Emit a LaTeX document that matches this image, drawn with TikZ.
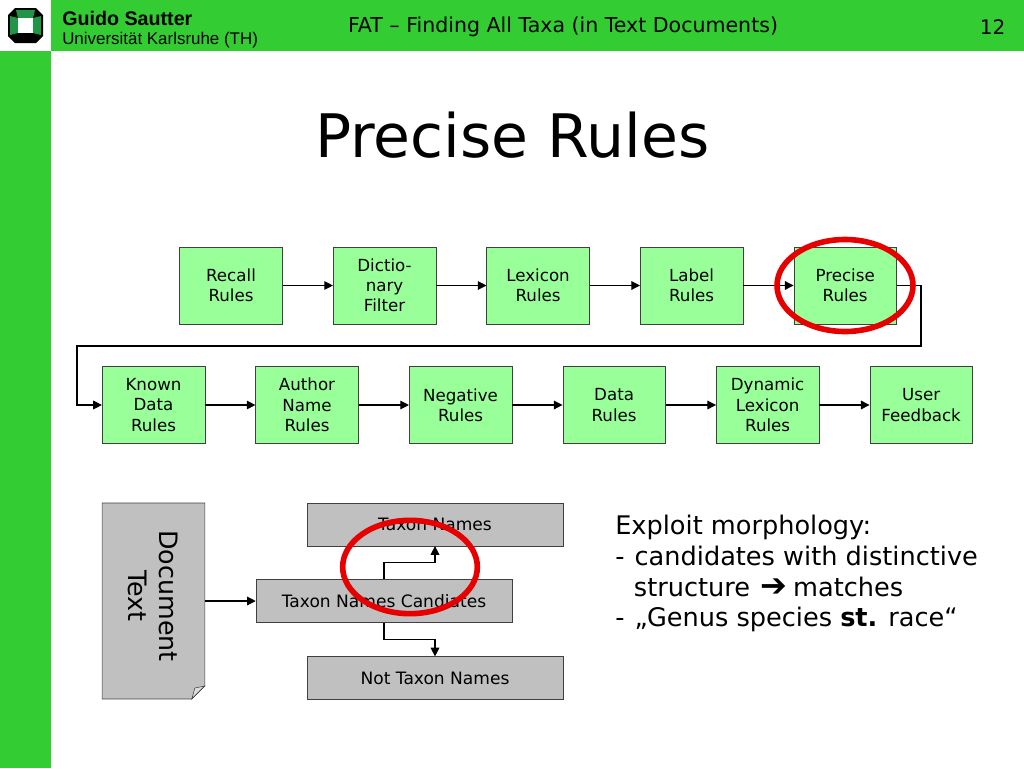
\documentclass[tikz,border=0pt]{standalone}
\usepackage{fontspec}
\setmainfont{DejaVu Sans}
\newfontfamily\headfont{Liberation Sans}
\usetikzlibrary{arrows.meta,positioning,shapes.geometric,calc}
\definecolor{unigreen}{RGB}{51,204,51}
\definecolor{logogreen}{RGB}{30,150,70}
\definecolor{boxgreen}{RGB}{153,255,153}
\definecolor{boxgray}{RGB}{192,192,192}
\definecolor{ringred}{RGB}{230,0,0}

\begin{document}
\begin{tikzpicture}[x=0.75pt, y=-0.75pt, node distance=37.75pt and 37.75pt,
  rulebox/.style={draw=black!75, fill=boxgreen, align=center, minimum width=77pt, minimum height=57.5pt, inner sep=0pt, font=\fontsize{12.5}{15.2}\selectfont},
  graybox/.style={draw=black!75, fill=boxgray, align=center, minimum width=192pt, minimum height=32pt, inner sep=0pt, font=\fontsize{12.8}{15.2}\selectfont},
  arr/.style={-{Triangle[length=6.5pt,width=6.5pt]}, line width=0.85pt},
  ring/.style={draw=ringred, ellipse, line width=4.2pt, inner sep=0pt}]
\useasboundingbox (0,0) rectangle (1024,768);
% page frame
\fill[unigreen] (51,0) rectangle (1024,51);
\fill[unigreen] (0,51) rectangle (51,768);
% logo
\fill[black] (15,8) -- (36,8) -- (43,15) -- (43,36) -- (36,43) -- (15,43) -- (8,36) -- (8,15) -- cycle;
\fill[logogreen] (16,10) -- (35,10) -- (33,18) -- (18,18) -- cycle;
\fill[logogreen] (10,16) -- (18,18) -- (18,33) -- (10,35) -- cycle;
\fill[logogreen] (41,16) -- (33,18) -- (33,33) -- (41,35) -- cycle;
\fill[white] (18,18) rectangle (33,33);
% header
\node[anchor=west, inner sep=0pt, font=\headfont\bfseries\fontsize{12.4}{15}\selectfont, scale=1.19] (author) at (62,18) {Guido Sautter};
\node[anchor=west, inner sep=0pt, font=\headfont\fontsize{12.7}{15}\selectfont] (uni) at (62,40) {Universität Karlsruhe (TH)};
\node[inner sep=0pt, font=\fontsize{15.4}{18}\selectfont] (talk) at (563,27) {FAT – Finding All Taxa (in Text Documents)};
\node[inner sep=0pt, font=\fontsize{15}{18}\selectfont] (pagenum) at (992.5,27) {12};
\node[inner sep=0pt, font=\fontsize{45}{54}\selectfont] (title) at (512.5,135) {Precise Rules};
% first row
\node[rulebox] (recall) at (231,285.5) {Recall\\Rules};
\node[rulebox, right=of recall] (dict) {Dictio-\\nary\\Filter};
\node[rulebox, right=of dict] (lex) {Lexicon\\Rules};
\node[rulebox, right=of lex] (label) {Label\\Rules};
\node[rulebox, right=of label] (prec) {Precise\\Rules};
% second row
\node[rulebox] (known) at (153.5,405) {Known\\Data\\Rules};
\node[rulebox, right=of known] (authorn) {Author\\Name\\Rules};
\node[rulebox, right=of authorn] (neg) {Negative\\Rules};
\node[rulebox, right=of neg] (data) {Data\\Rules};
\node[rulebox, right=of data] (dyn) {Dynamic\\Lexicon\\Rules};
\node[rulebox, right=of dyn] (user) {User\\Feedback};
\coordinate (turnr) at (921,346);
\coordinate (turnl) at (77,346);
\draw[arr] (recall) -- (dict);
\draw[arr] (dict) -- (lex);
\draw[arr] (lex) -- (label);
\draw[arr] (label) -- (prec);
\draw[arr] (prec.east) -| (turnr) -- (turnl) |- (known.west);
\draw[arr] (known) -- (authorn);
\draw[arr] (authorn) -- (neg);
\draw[arr] (neg) -- (data);
\draw[arr] (data) -- (dyn);
\draw[arr] (dyn) -- (user);
% lower part
\node[fill=boxgray, minimum width=77pt, minimum height=147pt, inner sep=0pt, outer sep=0pt] (doc) at (153.5,601) {};
\coordinate (folda) at ($(doc.south east)+(-13,0)$);
\coordinate (foldb) at ($(doc.south east)+(0,-13)$);
\fill[white] ($(folda)+(0,2)$) -- ($(doc.south east)+(2,2)$) -- ($(foldb)+(2,0)$) -- (foldb) -- (folda) -- cycle;
\draw[black!75, fill=boxgray!55!white] (folda) -- (foldb) -- ($(doc.south east)+(-10,-11)$) -- cycle;
\draw[black!75] (foldb) -- (doc.north east) -- (doc.north west) -- (doc.south west) -- (folda) -- cycle;
\node[rotate=-90, align=center, inner sep=0pt, font=\fontsize{19}{23}\selectfont] (doctext) at (153,596) {Document\\Text};
\node[graybox] (cand) at (384,601) {Taxon Names Candiates};
\node[graybox] (taxon) at (435,524.5) {Taxon Names};
\node[graybox] (nottax) at (435,678) {Not Taxon Names};
\draw[arr] (doc.east |- cand) -- (cand);
\draw[arr] (cand.north) |- ($(cand.north)!.5!(taxon.south)$) -| (taxon.south);
\draw[arr] (cand.south) |- ($(cand.south)!.5!(nottax.north)$) -| (nottax.north);
% note
\node[anchor=north west, align=left, inner sep=0pt, font=\fontsize{19.2}{23}\selectfont] (note) at (615,515) {Exploit morphology:\\-\hspace{7.6pt}candidates with distinctive\\\hspace*{14pt}structure\hspace{1.5pt} {\fontsize{24}{24}\selectfont ➔} \hspace{-1.5pt}matches\\-\hspace{7.6pt}„Genus species \textbf{st.} race“};
% marks
\node[ring, minimum width=102pt, minimum height=69pt] (ringprec) at (845,285.5) {};
\node[ring, minimum width=101pt, minimum height=70pt] (ringtax) at (410,567) {};
\end{tikzpicture}
\end{document}
